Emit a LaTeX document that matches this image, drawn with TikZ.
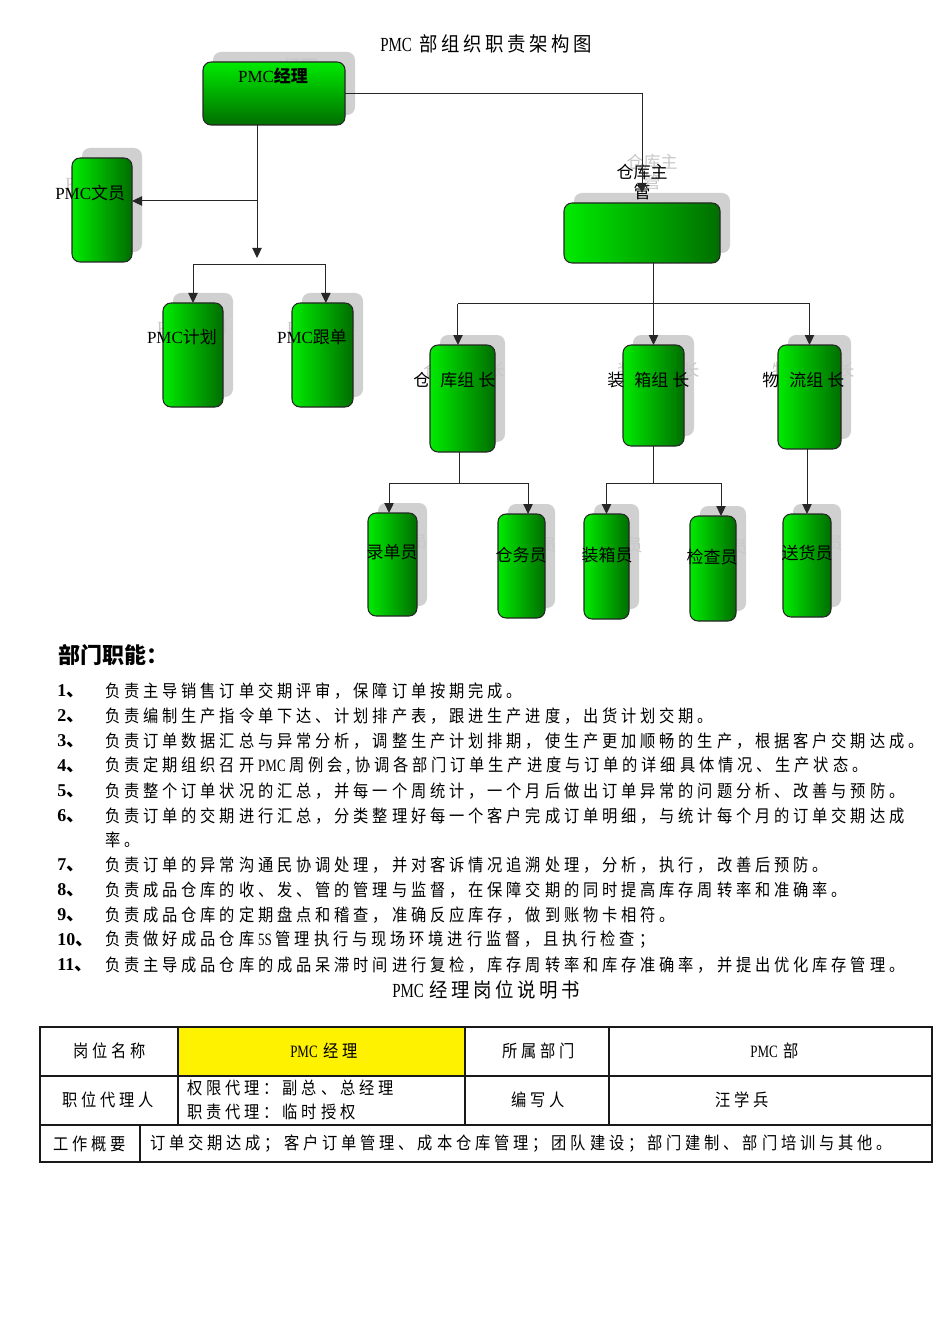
\documentclass[tikz,border=0pt]{standalone}
\usepackage{fontspec}
\usetikzlibrary{arrows.meta}
\setmainfont{Liberation Serif}
\newfontfamily\cjk{Noto Sans CJK SC}
\newfontfamily\cjkn[FakeStretch=0.88]{Noto Sans CJK SC}
\newfontfamily\cjkt[FakeStretch=0.92]{Noto Sans CJK SC}
\newfontfamily\lat{Liberation Serif}
\newfontfamily\latn[FakeStretch=0.75]{Liberation Serif}

\definecolor{gbright}{RGB}{0,235,0}
\definecolor{gdark}{RGB}{0,110,0}
\definecolor{shadgray}{RGB}{208,208,208}
\definecolor{ghostgray}{RGB}{200,200,200}

\newcommand\spgap{2.9pt}
\newcommand\spstopmark{SPSTOP}
\newcommand\cjkspaced[1]{\cjkspitem#1\spstopmark}
\newcommand\cjkspitem[1]{\ifx\spstopmark#1\else{#1}\hspace{\spgap}\expandafter\cjkspitem\fi}

\newcommand\chartf{\fontsize{12.75pt}{15pt}\selectfont\cjk}
\newcommand\bodyf{\fontsize{13pt}{15pt}\selectfont\cjkn}
\newcommand\titlef{\fontsize{15pt}{18pt}\selectfont\cjkt}
\newcommand\numf{\fontsize{13.5pt}{16pt}\selectfont}

\begin{document}
\begin{tikzpicture}[x=0.75pt,y=-0.75pt,
  sz/.style 2 args={minimum width=#1*0.75pt, minimum height=#2*0.75pt},
  gbox/.style={draw=black!85, line width=0.8pt, rounded corners=6pt, inner sep=0pt, outer sep=0pt, left color=gbright, right color=gdark},
  gboxv/.style={gbox, top color=gbright, bottom color=gdark},
  shad/.style={fill=shadgray, rounded corners=6pt, inner sep=0pt, outer sep=0pt, draw=none},
  lbl/.style={font=\chartf, inner sep=0pt, text=black},
  ghost/.style={lbl, text=ghostgray},
  ln/.style={draw=black!85, line width=0.75pt},
  arr/.style={ln, -{Triangle[length=7.5pt,width=7pt]}},
  body/.style={anchor=west, inner sep=0pt, font=\bodyf},
  num/.style={anchor=west, inner sep=0pt, font=\numf},
  tbl/.style={line width=1.1pt, draw=black!90},
  ttxt/.style={anchor=west, inner sep=0pt, font=\bodyf}
]
\fill[white] (0,0) rectangle (950,1344);
\useasboundingbox (0,0) rectangle (950,1344);

% ---------- title ----------
\node[anchor=west, inner sep=0pt, font=\titlef] (title) at (380,44)
  {{\latn PMC}\hspace{6pt}\renewcommand\spgap{2.7pt}\cjkspaced{部组织职责架构图}};

% ---------- shadows ----------
\node[shad,sz={142}{63}] (mgrS)   at (284,83.5) {};
\node[shad,sz={60}{104}] (clerkS) at (112,200) {};
\node[shad,sz={60}{104}] (planS)  at (203,345) {};
\node[shad,sz={61}{104}] (trackS) at (332.5,345) {};
\node[shad,sz={156}{60}] (whS)    at (652,223) {};
\node[shad,sz={65}{107}] (whlS)   at (472.5,388.5) {};
\node[shad,sz={61}{101}] (packS)  at (663.5,385.5) {};
\node[shad,sz={63}{104}] (loglS)  at (819.5,387) {};
\node[shad,sz={49}{103}] (recS)   at (402.5,554.5) {};
\node[shad,sz={47}{104}] (wkS)    at (531.5,556) {};
\node[shad,sz={45}{105}] (pkS)    at (616.5,556.5) {};
\node[shad,sz={46}{105}] (chkS)   at (723,558.5) {};
\node[shad,sz={48}{103}] (dlvS)   at (817,555.5) {};

% ---------- ghost texts ----------
\node[ghost] (mgrG) at (283,65.5) {{\lat PMC}{\bfseries 经理}};
\node[ghost,anchor=west] (clerkG) at (65,183) {{\lat PMC}文员};
\node[ghost] (planG) at (192,327) {{\lat PMC}计划};
\node[ghost] (trackG) at (322,327) {{\lat PMC}跟单};
\node[ghost,align=center] (whG) at (652,172) {仓库主\\管};
\node[ghost,anchor=west] (whlG) at (423,370) {仓\hspace{7.5pt}库组\hspace{3pt}长};
\node[ghost,anchor=west] (packG) at (617,370) {装\hspace{7.5pt}箱组\hspace{3pt}长};
\node[ghost,anchor=west] (loglG) at (772,370) {物\hspace{7.5pt}流组\hspace{3pt}长};
\node[ghost] (recG) at (402,542) {录单员};
\node[ghost] (wkG) at (531,545) {仓务员};
\node[ghost] (pkG) at (617,545) {装箱员};
\node[ghost] (chkG) at (722,547) {检查员};
\node[ghost] (dlvG) at (817,543) {送货员};

% ---------- boxes ----------
\node[gboxv,sz={142}{63}] (mgr)   at (274,93.5) {};
\node[gbox,sz={60}{104}]  (clerk) at (102,210) {};
\node[gbox,sz={60}{104}]  (plan)  at (193,355) {};
\node[gbox,sz={61}{104}]  (track) at (322.5,355) {};
\node[gbox,sz={156}{60}]  (wh)    at (642,233) {};
\node[gbox,sz={65}{107}]  (whl)   at (462.5,398.5) {};
\node[gbox,sz={61}{101}]  (pack)  at (653.5,395.5) {};
\node[gbox,sz={63}{104}]  (logl)  at (809.5,397) {};
\node[gbox,sz={49}{103}]  (rec)   at (392.5,564.5) {};
\node[gbox,sz={47}{104}]  (wk)    at (521.5,566) {};
\node[gbox,sz={45}{105}]  (pk)    at (606.5,566.5) {};
\node[gbox,sz={46}{105}]  (chk)   at (713,568.5) {};
\node[gbox,sz={48}{103}]  (dlv)   at (807,565.5) {};

% ---------- labels ----------
\node[lbl] (mgrT) at (273,75.5) {{\lat PMC}{\bfseries 经理}};
\node[lbl,anchor=west] (clerkT) at (55,193) {{\lat PMC}文员};
\node[lbl] (planT) at (182,337) {{\lat PMC}计划};
\node[lbl] (trackT) at (312,337) {{\lat PMC}跟单};
\node[lbl,align=center] (whT) at (642,182) {仓库主\\管};
\node[lbl,anchor=west] (whlT) at (413,380) {仓\hspace{7.5pt}库组\hspace{3pt}长};
\node[lbl,anchor=west] (packT) at (607,380) {装\hspace{7.5pt}箱组\hspace{3pt}长};
\node[lbl,anchor=west] (loglT) at (762,380) {物\hspace{7.5pt}流组\hspace{3pt}长};
\node[lbl] (recT) at (392,552) {录单员};
\node[lbl] (wkT) at (521,555) {仓务员};
\node[lbl] (pkT) at (607,555) {装箱员};
\node[lbl] (chkT) at (712,557) {检查员};
\node[lbl] (dlvT) at (807,553) {送货员};

% ---------- connectors ----------
\draw[arr] (mgr.east) -| ([yshift=7.5pt]wh.north);
\coordinate (j1) at (257,201);
\coordinate (t1) at (257,258);
\draw[ln] (mgr.south -| j1) -- (j1);
\draw[arr] (j1) -- (t1);
\draw[arr] (j1) -- (clerk.east |- j1);
\coordinate (h1) at (257,265);
\coordinate (trackA) at ([xshift=2.5pt]track.north);
\draw[ln] (plan.north |- h1) -- (trackA |- h1);
\draw[arr] (plan.north |- h1) -- (plan.north);
\draw[arr] (trackA |- h1) -- (trackA);

\coordinate (h2) at (655,304);
\coordinate (whlA) at ([xshift=-3.4pt]whl.north);
\draw[arr] (pack.north |- wh.south) -- (pack.north);
\draw[ln] (whlA |- h2) -- (logl.north |- h2);
\draw[arr] (whlA |- h2) -- (whlA);
\draw[arr] (logl.north |- h2) -- (logl.north);

\coordinate (h3) at (459,483);
\coordinate (whlB) at ([xshift=-2.6pt]whl.south);
\coordinate (recA) at ([xshift=-2.6pt]rec.north);
\coordinate (wkA) at ([xshift=4.9pt]wk.north);
\coordinate (chkA) at ([xshift=6pt]chk.north);
\draw[ln] (whlB) -- (whlB |- h3);
\draw[ln] (recA |- h3) -- (wkA |- h3);
\draw[arr] (recA |- h3) -- (recA);
\draw[arr] (wkA |- h3) -- (wkA);
\draw[ln] (pack.south) -- (pack.south |- h3);
\draw[ln] (pk.north |- h3) -- (chkA |- h3);
\draw[arr] (pk.north |- h3) -- (pk.north);
\draw[arr] (chkA |- h3) -- (chkA);
\draw[arr] (dlv.north |- logl.south) -- (dlv.north);

% ---------- department functions ----------
\node[anchor=west, inner sep=0pt, font=\fontsize{16.5pt}{18pt}\selectfont\cjk\bfseries] (hdr) at (58,655) {部门职能：};

\node[num] (n1) at (57,691) {{\lat\bfseries 1}{\cjk\bfseries 、}};
\node[num] (n2) at (57,716) {{\lat\bfseries 2}{\cjk\bfseries 、}};
\node[num] (n3) at (57,741) {{\lat\bfseries 3}{\cjk\bfseries 、}};
\node[num] (n4) at (57,766) {{\lat\bfseries 4}{\cjk\bfseries 、}};
\node[num] (n5) at (57,791) {{\lat\bfseries 5}{\cjk\bfseries 、}};
\node[num] (n6) at (57,816) {{\lat\bfseries 6}{\cjk\bfseries 、}};
\node[num] (n7) at (57,865) {{\lat\bfseries 7}{\cjk\bfseries 、}};
\node[num] (n8) at (57,890) {{\lat\bfseries 8}{\cjk\bfseries 、}};
\node[num] (n9) at (57,915) {{\lat\bfseries 9}{\cjk\bfseries 、}};
\node[num] (n10) at (57,940) {{\lat\bfseries 10}{\cjk\bfseries 、}};
\node[num] (n11) at (57,965) {{\lat\bfseries 11}{\cjk\bfseries 、}};

\node[body] (l1) at (105,691) {\cjkspaced{负责主导销售订单交期评审，保障订单按期完成。}};
\node[body] (l2) at (105,716) {\cjkspaced{负责编制生产指令单下达、计划排产表，跟进生产进度，出货计划交期。}};
\node[body] (l3) at (105,741) {\cjkspaced{负责订单数据汇总与异常分析，调整生产计划排期，使生产更加顺畅的生产，根据客户交期达成。}};
\node[body] (l4) at (105,766) {\cjkspaced{负责定期组织召开{\latn PMC}周例会,协调各部门订单生产进度与订单的详细具体情况、生产状态。}};
\node[body] (l5) at (105,791) {\cjkspaced{负责整个订单状况的汇总，并每一个周统计，一个月后做出订单异常的问题分析、改善与预防。}};
\node[body] (l6) at (105,816) {\cjkspaced{负责订单的交期进行汇总，分类整理好每一个客户完成订单明细，与统计每个月的订单交期达成}};
\node[body] (l6b) at (105,840) {\cjkspaced{率。}};
\node[body] (l7) at (105,865) {\cjkspaced{负责订单的异常沟通民协调处理，并对客诉情况追溯处理，分析，执行，改善后预防。}};
\node[body] (l8) at (105,890) {\cjkspaced{负责成品仓库的收、发、管的管理与监督，在保障交期的同时提高库存周转率和准确率。}};
\node[body] (l9) at (105,915) {\cjkspaced{负责成品仓库的定期盘点和稽查，准确反应库存，做到账物卡相符。}};
\node[body] (l10) at (105,940) {\cjkspaced{负责做好成品仓库{\latn 5S}管理执行与现场环境进行监督，且执行检查；}};
\node[body] (l11) at (105,965) {\cjkspaced{负责主导成品仓库的成品呆滞时间进行复检，库存周转率和库存准确率，并提出优化库存管理。}};

% ---------- job description title ----------
\node[anchor=west, inner sep=0pt, font=\titlef] (title2) at (392,990)
  {{\latn PMC}\hspace{4pt}\renewcommand\spgap{2.7pt}\cjkspaced{经理岗位说明书}};

% ---------- table ----------
\fill[yellow] (178,1027) rectangle (465,1076);
\draw[tbl] (40,1027) rectangle (932,1162);
\draw[tbl] (40,1076) -- (932,1076);
\draw[tbl] (40,1125) -- (932,1125);
\draw[tbl] (178,1027) -- (178,1125);
\draw[tbl] (465,1027) -- (465,1125);
\draw[tbl] (609,1027) -- (609,1125);
\draw[tbl] (140,1125) -- (140,1162);

\node[ttxt] (c11) at (73,1051) {\cjkspaced{岗位名称}};
\node[ttxt] (c12) at (290,1051) {{\latn PMC}\hspace{4pt}\cjkspaced{经理}};
\node[ttxt] (c13) at (502,1051) {\cjkspaced{所属部门}};
\node[ttxt] (c14) at (750,1051) {{\latn PMC}\hspace{4pt}\cjkspaced{部}};
\node[ttxt] (c21) at (62,1100) {\cjkspaced{职位代理人}};
\node[ttxt] (c22a) at (187,1088) {\cjkspaced{权限代理：副总、总经理}};
\node[ttxt] (c22b) at (187,1112) {\cjkspaced{职责代理：临时授权}};
\node[ttxt] (c23) at (511,1100) {\cjkspaced{编写人}};
\node[ttxt] (c24) at (715,1100) {\cjkspaced{汪学兵}};
\node[ttxt] (c31) at (53,1144) {\cjkspaced{工作概要}};
\node[ttxt] (c32) at (150,1144) {\cjkspaced{订单交期达成；客户订单管理、成本仓库管理；团队建设；部门建制、部门培训与其他。}};
\end{tikzpicture}
\end{document}
